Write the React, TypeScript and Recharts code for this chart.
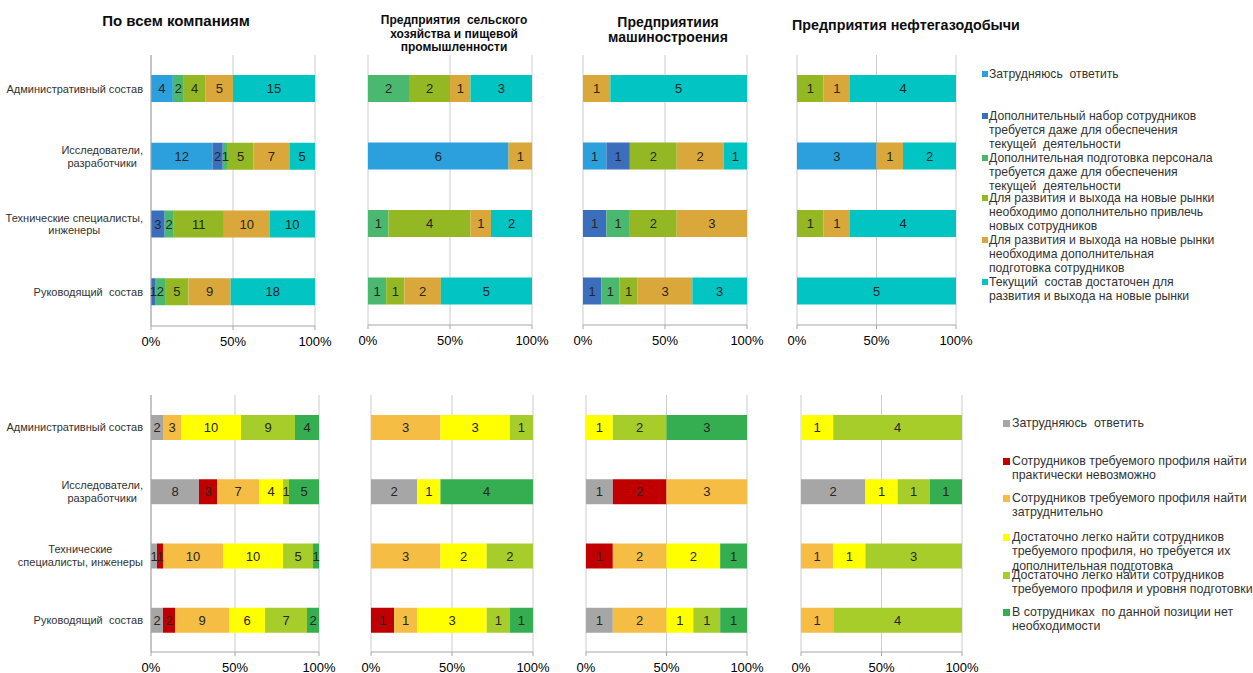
import React from "react";
import { BarChart, Bar, XAxis, YAxis, CartesianGrid, LabelList } from "recharts";

const FONT = "'Liberation Sans', Arial, sans-serif";

// Row categories (top to bottom)
const rowsTop = [
  "Административный состав",
  "Исследователи,\nразработчики",
  "Технические специалисты,\nинженеры",
  "Руководящий  состав",
];
const rowsBottom = [
  "Административный состав",
  "Исследователи,\nразработчики",
  "Технические\nспециалисты, инженеры",
  "Руководящий  состав",
];

const titles = [
  "По всем компаниям",
  "Предприятия  сельского\nхозяйства и пищевой\nпромышленности",
  "Предприятиия\nмашиностроения",
  "Предприятия нефтегазодобычи",
];

// Top row series: staffing needs
const staffSeries = [
  "Затрудняюсь  ответить",
  "Дополнительный набор сотрудников\nтребуется даже для обеспечения\nтекущей  деятельности",
  "Дополнительная подготовка персонала\nтребуется даже для обеспечения\nтекущей  деятельности",
  "Для развития и выхода на новые рынки\nнеобходимо дополнительно привлечь\nновых сотрудников",
  "Для развития и выхода на новые рынки\nнеобходима дополнительная\nподготовка сотрудников",
  "Текущий  состав достаточен для\nразвития и выхода на новые рынки",
];
const staffColors = ["#2ca0dc", "#3b6fbd", "#4bb870", "#93b824", "#d9a73a", "#02c4c2"];

// Bottom row series: hiring difficulty
const hireSeries = [
  "Затрудняюсь  ответить",
  "Сотрудников требуемого профиля найти\nпрактически невозможно",
  "Сотрудников требуемого профиля найти\nзатруднительно",
  "Достаточно легко найти сотрудников\nтребуемого профиля, но требуется их\nдополнительная подготовка",
  "Достаточно легко найти сотрудников\nтребуемого профиля и уровня подготовки",
  "В сотрудниках  по данной позиции нет\nнеобходимости",
];
const hireColors = ["#a6a6a6", "#c00000", "#f5bd43", "#ffff00", "#a6cd2a", "#34ae50"];

// counts per row, in series order
const staffAll = [[4, 0, 2, 4, 5, 15], [12, 2, 1, 5, 7, 5], [0, 3, 2, 11, 10, 10], [0, 1, 2, 5, 9, 18]];
const staffAgro = [[0, 0, 2, 2, 1, 3], [6, 0, 0, 0, 1, 0], [0, 0, 1, 4, 1, 2], [0, 0, 1, 1, 2, 5]];
const staffMach = [[0, 0, 0, 0, 1, 5], [1, 1, 0, 2, 2, 1], [0, 1, 1, 2, 3, 0], [0, 1, 1, 1, 3, 3]];
const staffOil = [[0, 0, 0, 1, 1, 4], [3, 0, 0, 0, 1, 2], [0, 0, 0, 1, 1, 4], [0, 0, 0, 0, 0, 5]];

const hireAll = [[2, 0, 3, 10, 9, 4], [8, 3, 7, 4, 1, 5], [1, 1, 10, 10, 5, 1], [2, 2, 9, 6, 7, 2]];
const hireAgro = [[0, 0, 3, 3, 1, 0], [2, 0, 0, 1, 0, 4], [0, 0, 3, 2, 2, 0], [0, 1, 1, 3, 1, 1]];
const hireMach = [[0, 0, 0, 1, 2, 3], [1, 2, 3, 0, 0, 0], [0, 1, 2, 2, 0, 1], [1, 0, 2, 1, 1, 1]];
const hireOil = [[0, 0, 0, 1, 4, 0], [2, 0, 0, 1, 1, 1], [0, 0, 1, 1, 3, 0], [0, 0, 1, 0, 4, 0]];

const pctTicks = [0, 0.5, 1];

// plot boxes (layout)
const topBoxes = [
  { x0: 151, x1: 315, y0: 55, y1: 326 },
  { x0: 368, x1: 532, y0: 55, y1: 325 },
  { x0: 583, x1: 747, y0: 55, y1: 325 },
  { x0: 797, x1: 956, y0: 55, y1: 325 },
];
const bottomBoxes = [
  { x0: 151, x1: 319, y0: 395, y1: 652 },
  { x0: 371, x1: 533, y0: 395, y1: 652 },
  { x0: 586, x1: 747, y0: 395, y1: 652 },
  { x0: 801, x1: 962, y0: 395, y1: 652 },
];

let ctx: CanvasRenderingContext2D | null = null;
function textWidth(s: string, font: string) {
  if (!ctx) ctx = document.createElement("canvas").getContext("2d");
  if (!ctx) return s.length * 6;
  ctx.font = font;
  return ctx.measureText(s).width;
}

function RowTick(props: any) {
  const { x, y, payload, lh } = props;
  const lines = String(payload.value).split("\n");
  const w = Math.max(...lines.map((l) => textWidth(l, `11px ${FONT}`)));
  const cx = x - w / 2;
  const y0 = y - ((lines.length - 1) * lh) / 2;
  return (
    <text textAnchor="middle" fontSize={11} fontFamily={FONT} fill="#333" style={{ whiteSpace: "pre" }}>
      {lines.map((l, i) => (
        <tspan key={i} x={cx} y={y0 + i * lh} dy="0.35em">
          {l}
        </tspan>
      ))}
    </text>
  );
}

const renderCount = (p: any) => {
  const vb = p.viewBox || p;
  if (!p.value) return null;
  return (
    <text
      x={vb.x + vb.width / 2}
      y={vb.y + vb.height / 2}
      dy="0.35em"
      textAnchor="middle"
      fontSize={13}
      fontFamily={FONT}
      fill="#262626"
    >
      {p.value}
    </text>
  );
};

function Panel({ rows, counts, colors, box, showLabels, barSize, lh }: any) {
  const data = rows.map((name: string, i: number) => {
    const row: any = { name };
    counts[i].forEach((v: number, j: number) => (row[`s${j}`] = v));
    return row;
  });
  const yw = showLabels ? 145 : 0;
  const ml = showLabels ? 6 : 16;
  const mt = 2;
  const mr = 22;
  const xh = 30;
  const left = box.x0 - yw - ml;
  const top = box.y0 - mt;
  const width = box.x1 - left + mr;
  const height = box.y1 - top + xh;
  return (
    <div style={{ position: "absolute", left, top }}>
      <BarChart
        width={width}
        height={height}
        data={data}
        layout="vertical"
        stackOffset="expand"
        barSize={barSize}
        margin={{ top: mt, right: mr, left: ml, bottom: 0 }}
      >
        <CartesianGrid horizontal={false} stroke="#cccccc" />
        <XAxis
          type="number"
          domain={[0, 1]}
          ticks={pctTicks}
          interval={0}
          tickFormatter={(v: number) => `${Math.round(v * 100)}%`}
          height={xh}
          tickSize={4}
          tickMargin={7}
          stroke="#a6a6a6"
          tick={{ fill: "#000", fontSize: 13, fontFamily: FONT }}
        />
        <YAxis
          type="category"
          dataKey="name"
          width={yw}
          hide={!showLabels}
          interval={0}
          tickLine={false}
          tickSize={0}
          tickMargin={8}
          stroke="#a6a6a6"
          tick={<RowTick lh={lh} />}
        />
        {colors.map((c: string, j: number) => (
          <Bar key={j} dataKey={`s${j}`} stackId="a" fill={c} isAnimationActive={false}>
            <LabelList dataKey={`s${j}`} content={renderCount} />
          </Bar>
        ))}
      </BarChart>
    </div>
  );
}

function LegendBlock({ names, colors, x, centers, fontSize, lineHeight, box, gap }: any) {
  return (
    <>
      {names.map((n: string, i: number) => (
        <div key={i} style={{ position: "absolute", left: x, top: centers[i] - lineHeight / 2 }}>
          <span
            style={{
              position: "absolute",
              left: -box - gap,
              top: (lineHeight - box) / 2,
              width: box,
              height: box,
              background: colors[i],
            }}
          />
          <div style={{ whiteSpace: "pre", fontSize, lineHeight: `${lineHeight}px`, color: "#333", fontFamily: FONT }}>
            {n}
          </div>
        </div>
      ))}
    </>
  );
}

const titleLayout = [
  { cx: 176, cy: 21, size: 15, lh: 16 },
  { cx: 454, cy: 21, size: 12, lh: 13.5 },
  { cx: 668, cy: 22.5, size: 14, lh: 15.5 },
  { cx: 906, cy: 25, size: 14.3, lh: 16 },
];

export default function App() {
  const staff = [staffAll, staffAgro, staffMach, staffOil];
  const hire = [hireAll, hireAgro, hireMach, hireOil];
  return (
    <div
      style={{
        position: "absolute",
        left: 0,
        top: 0,
        width: 1253,
        height: 673,
        background: "#fff",
        overflow: "hidden",
        fontFamily: FONT,
      }}
    >
      {titles.map((t, i) => {
        const l = titleLayout[i];
        return (
          <div
            key={i}
            style={{
              position: "absolute",
              left: l.cx - 150,
              width: 300,
              top: l.cy - l.lh / 2,
              textAlign: "center",
              whiteSpace: "pre",
              fontWeight: "bold",
              fontSize: l.size,
              lineHeight: `${l.lh}px`,
              color: "#0d0d0d",
            }}
          >
            {t}
          </div>
        );
      })}
      {staff.map((c, i) => (
        <Panel key={`t${i}`} rows={rowsTop} counts={c} colors={staffColors} box={topBoxes[i]} showLabels={i === 0} barSize={27} lh={12.5} />
      ))}
      {hire.map((c, i) => (
        <Panel key={`b${i}`} rows={rowsBottom} counts={c} colors={hireColors} box={bottomBoxes[i]} showLabels={i === 0} barSize={25} lh={13} />
      ))}
      <LegendBlock names={staffSeries} colors={staffColors} x={989} centers={[74, 116, 158, 198, 240, 282]} fontSize={12.2} lineHeight={14} box={6} gap={1} />
      <LegendBlock names={hireSeries} colors={hireColors} x={1012} centers={[423, 461, 498, 537, 575, 612]} fontSize={12.4} lineHeight={14.5} box={7} gap={2} />
    </div>
  );
}
